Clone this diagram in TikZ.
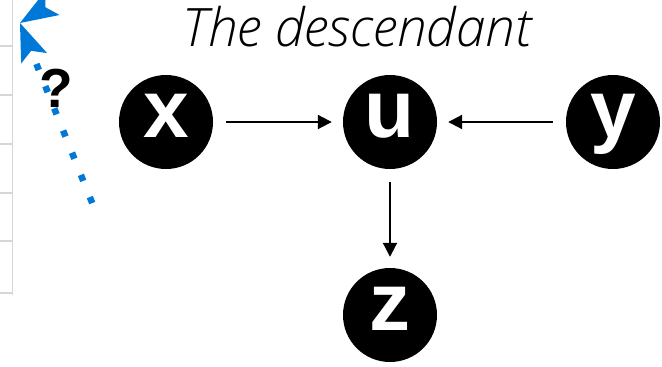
\documentclass[tikz,border=0pt]{standalone}
\usepackage{fontspec}
\setmainfont{Liberation Sans}
\newfontfamily\titlefont{Open Sans}[UprightFont=* Light, ItalicFont=* Light Italic]
\usetikzlibrary{arrows.meta}
\definecolor{linkblue}{RGB}{0,120,215}
\definecolor{gridgray}{RGB}{214,214,214}
\tikzset{
  var/.style={circle, fill=black, minimum size=94pt, inner sep=0pt, text=white,
    text height=43pt, text depth=12pt, font=\fontsize{82}{82}\selectfont\bfseries},
  edge/.style={line width=2pt, -{Triangle[length=14pt,width=14pt]}, shorten <=13pt, shorten >=11pt},
  hint/.style={linkblue, line width=6.5pt, line cap=butt, dash pattern=on 6.5pt off 17.4pt,
    -{Stealth[length=38pt,width=28pt,inset=8pt,line width=0pt]}}
}

\begin{document}
\begin{tikzpicture}[x=1pt, y=-1pt]
  \useasboundingbox (0,0) rectangle (662,367);
  \clip (0,0) rectangle (662,367);
  \draw[gridgray, line width=1.2pt] (12.5,0) -- (12.5,295);
  \foreach \gy in {46,95,144,193,241,293}
    \draw[gridgray, line width=1.2pt] (0,\gy) -- (12.5,\gy);
  \node[font=\titlefont\itshape\fontsize{53}{53}\selectfont, anchor=base] (title) at (357,46) {The descendant};
  \node[var] (x) at (166,122) {x};
  \node[var] (u) at (390,122) {u};
  \node[var] (y) at (613,122) {y};
  \node[var] (z) at (390,315) {z};
  \draw[edge] (x) -- (u);
  \draw[edge] (y) -- (u);
  \draw[edge] (u) -- (z);
  \coordinate (qstart) at (92.2,203.1);
  \coordinate (qtip) at (20,23);
  \draw[hint] (qstart) -- (qtip);
  \fill[linkblue] (qtip) -- (59.6,15.0) -- (45.5,7.3) -- (45,-8.8) -- cycle;
  \node[font=\fontsize{55}{55}\selectfont\bfseries, anchor=base, inner sep=0pt] (ask) at (56,107) {?};
\end{tikzpicture}
\end{document}
